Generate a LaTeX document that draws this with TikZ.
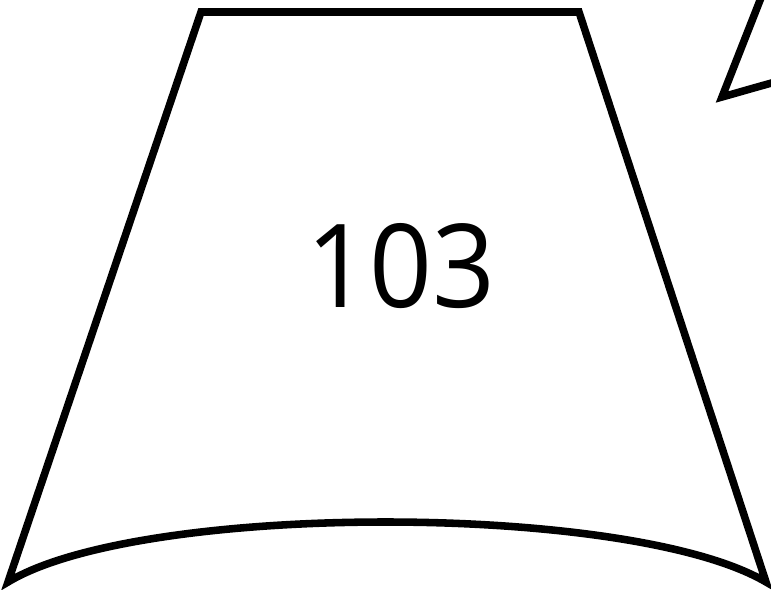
\documentclass[tikz,border=0pt]{standalone}
\usepackage{fontspec}
\setmainfont{Open Sans}
\usepackage{tikz}
\begin{document}
\begin{tikzpicture}[x=0.02cm, y=-0.02cm,
  segline/.style={draw=black, line width=4.3pt, line join=miter, fill=white}]
\useasboundingbox (0,0) rectangle (771,589);
% main segment
\draw[segline] (201,12) -- (579,12) -- (766,582)
  .. controls (630,502) and (140,502) .. (8,582) -- cycle;
% neighbouring segment, cut at the edge
\begin{scope}
\clip (0,0) rectangle (771,589);
\draw[segline] (768,-20) -- (722,97) .. controls (740,92) and (760,86) .. (790,78);
\end{scope}
\node[font=\fontsize{66}{78}\selectfont, xscale=0.95] (num) at (401,266) {103};
\end{tikzpicture}
\end{document}
